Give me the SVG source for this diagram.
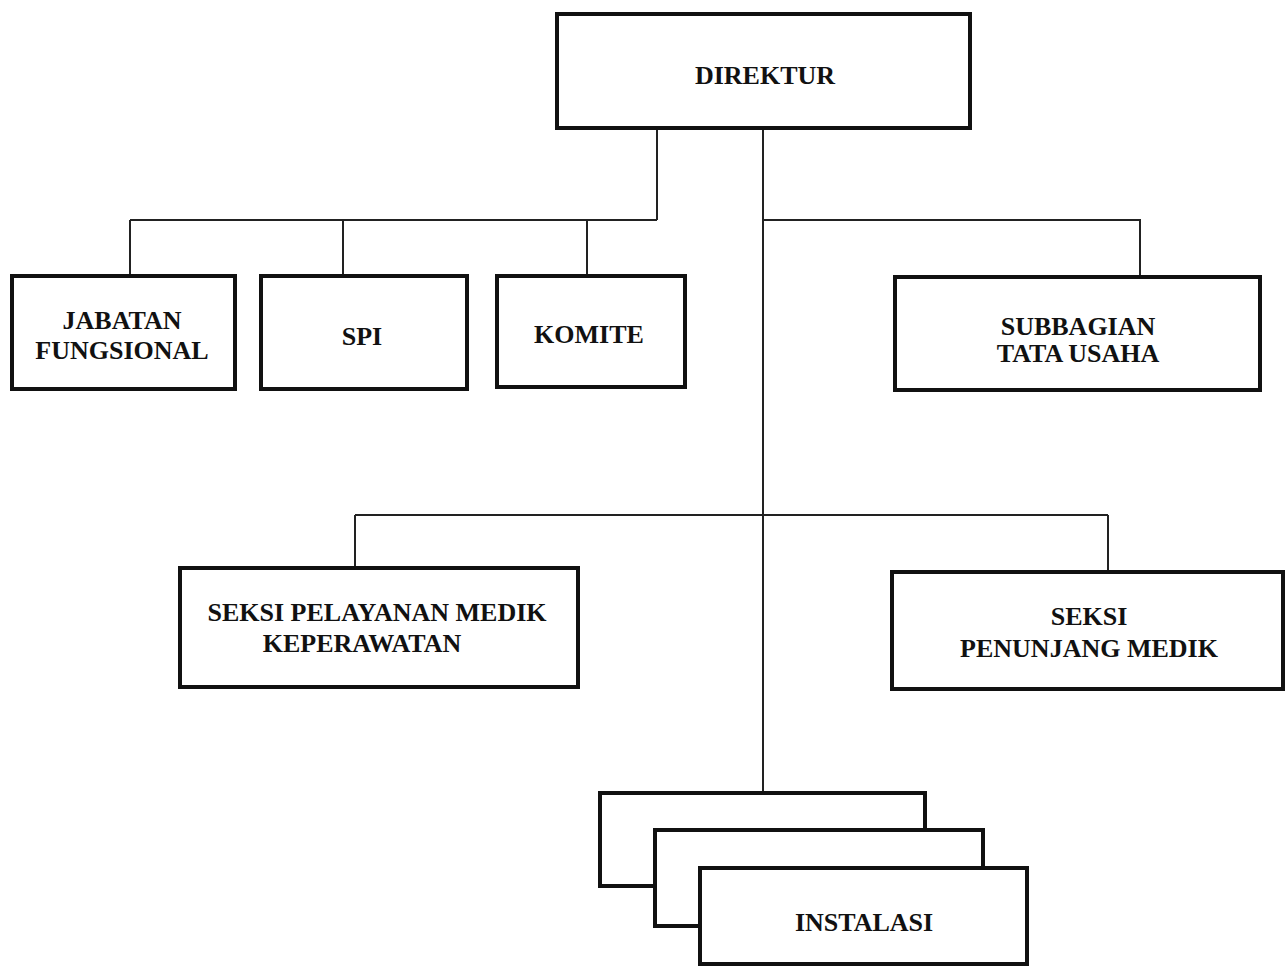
<svg xmlns="http://www.w3.org/2000/svg" width="1286" height="966" viewBox="0 0 1286 966">
<style>
.box{fill:#fff;stroke:#111;stroke-width:4}
.ln{fill:none;stroke:#222;stroke-width:2}
text{font-family:"Liberation Serif","Times New Roman",serif;font-weight:bold;font-size:26px;fill:#111;text-anchor:middle}
</style>
<rect width="1286" height="966" fill="#fff"/>
<g id="connectors">
<path class="ln" d="M657 128V220M130 220H657M130 220V275M343 220V276M587 220V276"/>
<path class="ln" d="M763 128V793M763 220H1140V277"/>
<path class="ln" d="M355 515H1108M355 515V568M1108 515V572"/>
</g>
<g id="direktur"><rect class="box" x="557" y="14" width="413" height="114"/><text x="765" y="84">DIREKTUR</text></g>
<g id="jabatan"><rect class="box" x="12" y="276" width="223" height="113"/><text x="122" y="329">JABATAN</text><text x="122" y="359">FUNGSIONAL</text></g>
<g id="spi"><rect class="box" x="261" y="276" width="206" height="113"/><text x="362" y="345">SPI</text></g>
<g id="komite"><rect class="box" x="497" y="276" width="188" height="111"/><text x="589" y="343">KOMITE</text></g>
<g id="subbagian"><rect class="box" x="895" y="277" width="365" height="113"/><text x="1078" y="335">SUBBAGIAN</text><text x="1078" y="362">TATA USAHA</text></g>
<g id="pelayanan"><rect class="box" x="180" y="568" width="398" height="119"/><text x="377" y="621">SEKSI PELAYANAN MEDIK</text><text x="362" y="652">KEPERAWATAN</text></g>
<g id="penunjang"><rect class="box" x="892" y="572" width="391" height="117"/><text x="1089" y="625">SEKSI</text><text x="1089" y="657">PENUNJANG MEDIK</text></g>
<g id="instalasi">
<rect class="box" x="600" y="793" width="325" height="93"/>
<rect class="box" x="655" y="830" width="328" height="96"/>
<rect class="box" x="700" y="868" width="327" height="96"/>
<text x="864" y="931">INSTALASI</text>
</g>
</svg>
